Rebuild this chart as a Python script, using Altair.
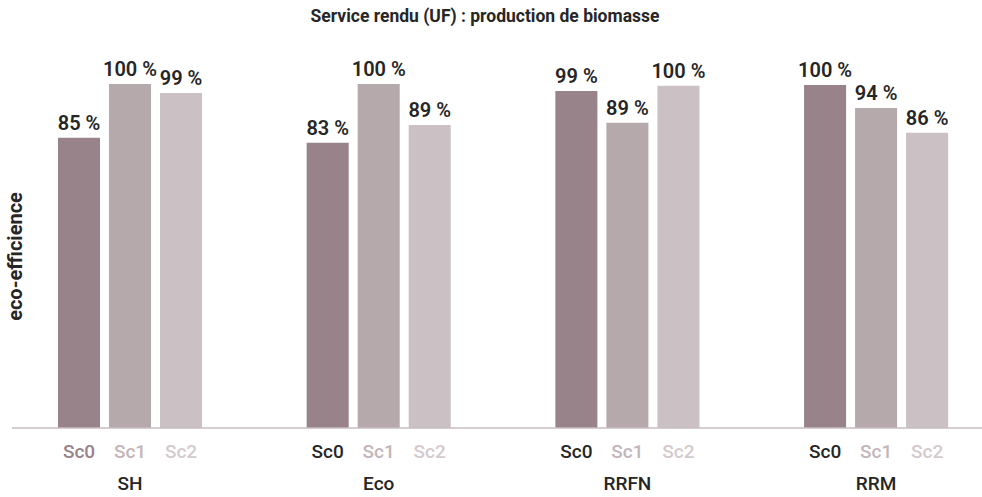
import altair as alt
import pandas as pd

groups = ["SH", "Eco", "RRFN", "RRM"]
scenarios = ["Sc0", "Sc1", "Sc2"]

# bar heights (relative eco-efficiency, %)
sh_values = [84.4, 100, 97.4]
eco_values = [82.9, 100, 88.1]
rrfn_values = [98.0, 88.7, 99.5]
rrm_values = [99.7, 93.0, 85.8]

# printed labels
sh_labels = [85, 100, 99]
eco_labels = [83, 100, 89]
rrfn_labels = [99, 89, 100]
rrm_labels = [100, 94, 86]

bar_colors = ["#98838a", "#b5a9ac", "#cbc1c4"]
sc_label_colors_first = ["#98838a", "#c3b5b9", "#d4cacd"]
sc_label_colors_other = ["#262626", "#c3b5b9", "#d4cacd"]

title_text = "Service rendu (UF) : production de biomasse"
y_title = "eco-efficience"

rows = []
for g, vals, labs in zip(groups, [sh_values, eco_values, rrfn_values, rrm_values],
                         [sh_labels, eco_labels, rrfn_labels, rrm_labels]):
    cols = sc_label_colors_first if g == "SH" else sc_label_colors_other
    for s, v, l, c in zip(scenarios, vals, labs, cols):
        rows.append({"group": g, "scenario": s, "value": v,
                     "label": f"{l} %", "sccolor": c})
df = pd.DataFrame(rows)

W, H = 970, 388
FONT = "Roboto"
DARK = "#262626"

x_enc = alt.X("group:N", sort=groups,
              scale=alt.Scale(domain=groups, range=[-6.35, 988.45],
                              paddingInner=0.2, paddingOuter=0.1),
              axis=alt.Axis(title=None, ticks=False, domain=False, grid=False,
                            labelPadding=46, labelFontSize=19,
                            labelFont=FONT, labelFontWeight=500,
                            labelColor=DARK, labelAngle=0))
xo_enc = alt.XOffset("scenario:N", sort=scenarios,
                     scale=alt.Scale(domain=scenarios, paddingInner=0.176,
                                     paddingOuter=0.538))
y_enc = alt.Y("value:Q", scale=alt.Scale(domain=[0, 112.79], nice=False, zero=True),
              axis=alt.Axis(title=y_title, labels=False, ticks=False,
                            domain=False, grid=False, titleX=3, titleY=216,
                            titleAngle=270, titleAlign="center",
                            titleBaseline="middle", titleFont=FONT,
                            titleFontSize=20, titleFontWeight="bold",
                            titleColor=DARK))

base = alt.Chart(df)

bars = base.mark_bar().encode(
    x=x_enc, xOffset=xo_enc, y=y_enc,
    color=alt.Color("scenario:N", scale=alt.Scale(domain=scenarios, range=bar_colors),
                    legend=None),
)

values = base.mark_text(baseline="bottom", dy=-4, font=FONT, fontSize=20,
                        fontWeight=600, color=DARK).encode(
    x=alt.X("group:N", sort=groups), xOffset=alt.XOffset("scenario:N", sort=scenarios),
    y="value:Q", text="label:N",
)

sclabels = base.mark_text(baseline="middle", font=FONT, fontSize=19,
                          fontWeight=500).encode(
    x=alt.X("group:N", sort=groups), xOffset=alt.XOffset("scenario:N", sort=scenarios),
    y=alt.value(H + 24), text="scenario:N",
    color=alt.Color("sccolor:N", scale=None),
)

baseline = alt.Chart(pd.DataFrame({"v": [0]})).mark_rule(
    color="#c9bdc2", strokeWidth=1.5).encode(y=alt.Y("v:Q"))

chart = alt.layer(bars, baseline, values, sclabels).properties(
    width=W, height=H,
    autosize=alt.AutoSizeParams(type="none"),
    padding={"left": 12, "top": 40, "right": 0, "bottom": 69},
    title=alt.TitleParams(title_text, font=FONT, fontSize=17.5, fontWeight="bold",
                          color=DARK, anchor="middle", offset=15, dx=-12),
).configure(background="white").configure_view(stroke=None)

chart.save("out.html", embed_options={"renderer": "svg", "actions": False})
